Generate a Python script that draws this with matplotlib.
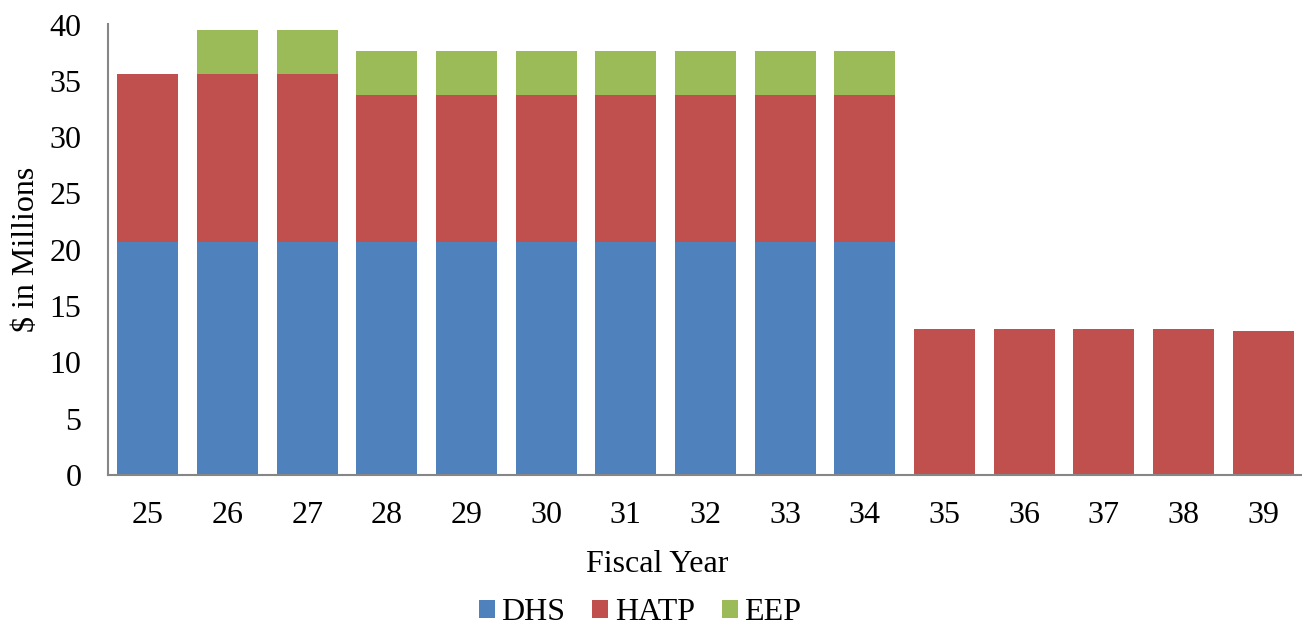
import matplotlib
matplotlib.use("Agg")
import matplotlib.pyplot as plt
import numpy as np

years = ["25", "26", "27", "28", "29", "30", "31", "32", "33", "34", "35", "36", "37", "38", "39"]
dhs = [20.7, 20.7, 20.7, 20.7, 20.7, 20.7, 20.7, 20.7, 20.7, 20.7, 0, 0, 0, 0, 0]
hatp = [14.9, 14.9, 14.9, 13.0, 13.0, 13.0, 13.0, 13.0, 13.0, 13.0, 13.0, 13.0, 13.0, 13.0, 12.8]
eep = [0, 3.9, 3.9, 3.95, 3.95, 3.95, 3.95, 3.95, 3.95, 3.95, 0, 0, 0, 0, 0]

colors = {"DHS": "#4F81BD", "HATP": "#C0504D", "EEP": "#9BBB59"}

plt.rcParams['font.family'] = ['Liberation Serif', 'DejaVu Serif']
FS = 23

fig = plt.figure(figsize=(13.02, 6.3), dpi=100)
ax = fig.add_axes([108/1302, 1-475/630, (1303-108)/1302, (475-24.5)/630])

x = np.arange(len(years))
w = 0.765
b1 = ax.bar(x, dhs, w, color=colors["DHS"], label="DHS")
b2 = ax.bar(x, hatp, w, bottom=dhs, color=colors["HATP"], label="HATP")
bottom2 = np.array(dhs) + np.array(hatp)
b3 = ax.bar(x, eep, w, bottom=bottom2, color=colors["EEP"], label="EEP")

ax.set_xlim(-0.5, len(years) - 0.5)
ax.set_ylim(0, 40)
ax.set_yticks(range(0, 41, 5))
ax.set_xticks(x)
ax.set_xticklabels(years)
ax.tick_params(axis='both', length=0, labelsize=FS)
ax.tick_params(axis='y', pad=19)
ax.tick_params(axis='x', pad=19)

for s in ["top", "right"]:
    ax.spines[s].set_visible(False)
for s in ["left", "bottom"]:
    ax.spines[s].set_color("#868686")
    ax.spines[s].set_linewidth(1.5)

ax.set_ylabel("$ in Millions", fontsize=FS)
ax.yaxis.set_label_coords(-(108-41)/1195, 0.5)
fig.text(657/1302, 1-565/630, "Fiscal Year", fontsize=FS, ha='center', va='center')

leg = fig.legend(handles=[b1, b2, b3], labels=["DHS", "HATP", "EEP"], loc='center',
                 bbox_to_anchor=(640/1302, 1-613/630), ncol=3, frameon=False,
                 fontsize=FS, handlelength=0.5, handleheight=0.5, handletextpad=0.2,
                 columnspacing=0.85)

fig.savefig("out.png", dpi=100)
